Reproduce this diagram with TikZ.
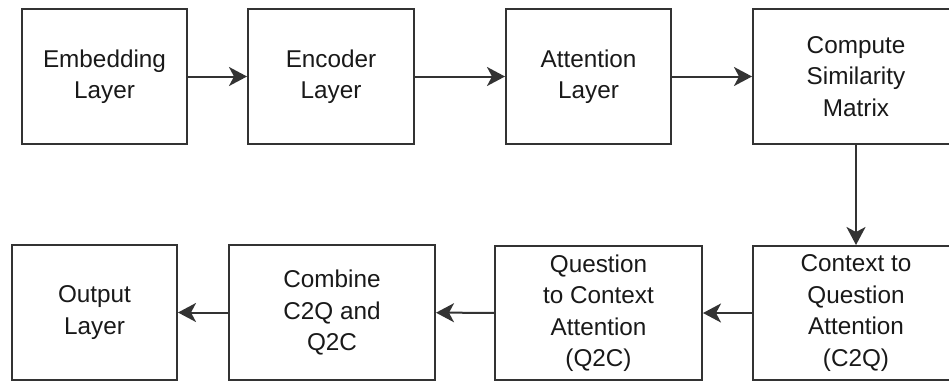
\documentclass[tikz,border=0pt]{standalone}
\usepackage{fontspec}
\setmainfont{Liberation Sans}
\usetikzlibrary{arrows.meta,positioning}
\usepackage{xcolor}
\definecolor{edgegray}{HTML}{333333}

\tikzset{
  blockbox/.style={draw=edgegray, line width=2pt, fill=white, align=center,
    inner sep=0pt, text=black!90, font=\fontsize{24.3}{31.5}\selectfont},
  flow/.style={-{Stealth[length=18pt,width=19pt,inset=5pt]}, draw=edgegray, line width=2pt}
}

\begin{document}
\begin{tikzpicture}[x=1pt, y=-1pt]
        \useasboundingbox (0,0) rectangle (949,383);
        \node[blockbox, minimum width=165pt, minimum height=135pt] (embed) at (104.5,76.5) {Embedding\\Layer};
        \node[blockbox, minimum width=166pt, minimum height=135pt] (encoder) at (331,76.5) {Encoder\\Layer};
        \node[blockbox, minimum width=165pt, minimum height=135pt] (attn) at (588.5,76.5) {Attention\\Layer};
        \node[blockbox, minimum width=206pt, minimum height=135pt] (simmat) at (856,76.5) {Compute\\Similarity\\Matrix};
        \node[blockbox, minimum width=206pt, minimum height=134pt] (ctoq) at (856,313) {Context to\\Question\\Attention\\(C2Q)};
        \node[blockbox, minimum width=207pt, minimum height=134pt] (qtoc) at (598.5,313) {Question\\to Context\\Attention\\(Q2C)};
        \node[blockbox, minimum width=206pt, minimum height=135pt] (combine) at (332,312.5) {Combine\\C2Q and\\Q2C};
        \node[blockbox, minimum width=165pt, minimum height=135pt] (output) at (94.5,312.5) {Output\\Layer};
        \draw[flow] (embed) -- (encoder);
        \draw[flow] (encoder) -- (attn);
        \draw[flow] (attn) -- (simmat);
        \draw[flow] (simmat) -- (ctoq);
        \draw[flow] (ctoq) -- (qtoc);
        \draw[flow] (qtoc) -- (combine);
        \draw[flow] (combine) -- (output);
      \end{tikzpicture}
\end{document}
